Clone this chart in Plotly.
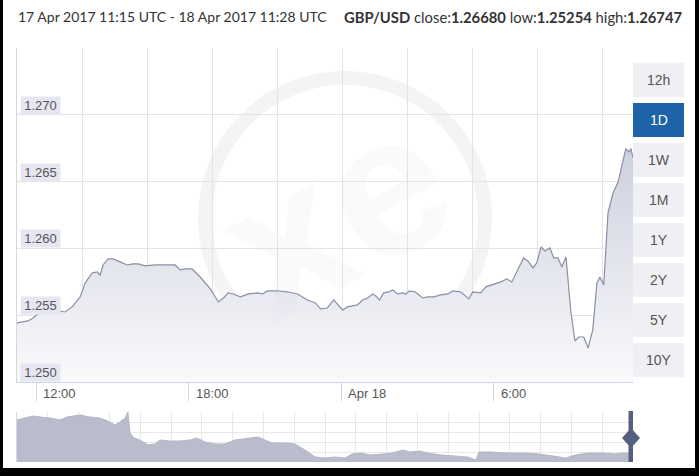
import pandas as pd
import plotly.graph_objects as go

W, H = 699, 476

start = pd.Timestamp("2017-04-17 11:15")
end = pd.Timestamp("2017-04-18 11:28")

# minutes after 17 Apr 2017 11:15 UTC
minutes = [0, 26, 38, 54, 78, 97, 113, 130, 149, 161, 177, 189, 196, 203, 215, 227,
           243, 260, 274, 286, 302, 326, 350, 373, 385, 397, 413, 432, 456, 475, 487,
           498, 510, 527, 546, 567, 579, 591, 614, 638, 662, 685, 704, 716, 732, 747,
           768, 780, 803, 815, 827, 839, 846, 855, 865, 877, 886, 898, 910, 917, 926,
           940, 957, 969, 983, 999, 1016, 1028, 1047, 1066, 1075, 1094, 1106, 1125,
           1141, 1155, 1167, 1181, 1195, 1205, 1217, 1226, 1236, 1245, 1257, 1266,
           1276, 1285, 1295, 1306, 1316, 1325, 1337, 1347, 1358, 1368, 1375, 1384,
           1394, 1406, 1418, 1427, 1436, 1444, 1448, 1453]
rate = [1.25442, 1.25457, 1.25479, 1.25524, 1.25524, 1.25532, 1.25524, 1.25562,
        1.25637, 1.25742, 1.25816, 1.25824, 1.25801, 1.25876, 1.25921, 1.25921,
        1.25899, 1.25876, 1.25884, 1.25884, 1.25869, 1.25876, 1.25876, 1.25876,
        1.25839, 1.25846, 1.25846, 1.25786, 1.25697, 1.25599, 1.25629, 1.25667,
        1.25659, 1.25637, 1.25659, 1.25667, 1.25659, 1.25682, 1.25682, 1.25674,
        1.25659, 1.25614, 1.25592, 1.25547, 1.25554, 1.25614, 1.25539, 1.25562,
        1.25577, 1.25614, 1.25629, 1.25659, 1.25644, 1.25614, 1.25667, 1.25674,
        1.25689, 1.25659, 1.25667, 1.25659, 1.25682, 1.25674, 1.25629, 1.25637,
        1.25637, 1.25652, 1.25659, 1.25682, 1.25674, 1.25622, 1.25674, 1.25667,
        1.25712, 1.25734, 1.25749, 1.25772, 1.25749, 1.25839, 1.25929, 1.25906,
        1.25854, 1.25891, 1.26011, 1.25981, 1.26004, 1.25929, 1.25929, 1.25861,
        1.25936, 1.25539, 1.25307, 1.25337, 1.25337, 1.25254, 1.25389, 1.25742,
        1.25786, 1.25727, 1.26266, 1.26416, 1.26498, 1.26625, 1.26745, 1.26723,
        1.26747, 1.26680]

# navigator (long history), position along the strip 0..20 and relative level 0..5
nav_pos = [0, 0.52, 0.75, 1.07, 1.40, 1.62, 1.82, 2.05, 2.37, 2.69, 2.95, 3.18, 3.34,
           3.51, 3.60, 3.67, 3.80, 3.99, 4.25, 4.48, 4.64, 4.97, 5.29, 5.62, 5.84,
           6.10, 6.43, 6.75, 7.08, 7.56, 7.82, 8.05, 8.28, 8.70, 9.03, 9.35, 9.68,
           10.0, 10.32, 10.65, 10.88, 11.17, 11.46, 11.88, 12.18, 12.53, 12.76, 13.05,
           13.34, 13.77, 14.22, 14.64, 14.90, 15.0, 15.36, 15.94, 16.53, 16.95, 17.40,
           17.82, 18.12, 18.54, 18.99, 19.42, 19.71, 19.90, 20.0]
nav_level = [4.2, 4.6, 4.5, 4.4, 4.2, 4.5, 4.6, 4.7, 4.5, 4.4, 4.1, 3.7, 4.0, 4.4, 5.0,
             2.9, 2.4, 2.2, 1.7, 1.8, 2.2, 2.1, 2.1, 2.2, 2.4, 2.0, 1.8, 1.8, 2.2, 2.4,
             2.5, 2.2, 1.9, 1.9, 1.8, 1.2, 0.5, 0.4, 0.5, 0.4, 0.8, 0.9, 0.7, 0.8, 0.9,
             1.2, 1.0, 1.1, 0.9, 0.7, 0.6, 0.5, 0.2, 1.0, 1.0, 0.9, 0.9, 0.8, 0.6, 0.4,
             0.7, 0.9, 0.9, 0.8, 0.9, 0.9, 0.9]

y_ticks = [1.250, 1.255, 1.260, 1.265, 1.270]
x_ticks = ["2017-04-17 12:00", "2017-04-17 18:00", "2017-04-18 00:00", "2017-04-18 06:00"]
x_tick_text = ["12:00", "18:00", "Apr 18", "6:00"]
buttons = ["12h", "1D", "1W", "1M", "1Y", "2Y", "5Y", "10Y"]
active = "1D"

title_left = "17 Apr 2017 11:15 UTC - 18 Apr 2017 11:28 UTC"
title_right = "<b>GBP/USD</b> close:<b>1.26680</b> low:<b>1.25254</b> high:<b>1.26747</b>"


def px(x):
    return x / W


def py(y):
    return 1 - y / H


times = [start + pd.Timedelta(minutes=m) for m in minutes]

fig = go.Figure()

fig.add_trace(go.Scatter(
    x=times, y=rate, mode="lines",
    line=dict(color="#8a8fa5", width=1.2),
    fill="tozeroy",
    fillgradient=dict(type="vertical", start=1.25, stop=1.2675,
                      colorscale=[[0, "#fafafc"], [1, "#cdd0de"]]),
    hoverinfo="skip", showlegend=False))

fig.add_trace(go.Scatter(
    x=nav_pos, y=nav_level, mode="lines", xaxis="x2", yaxis="y2",
    line=dict(color="#b3b7c7", width=1), fill="tozeroy", fillcolor="#b8bccb",
    hoverinfo="skip", showlegend=False))

# empty trace so the extra grid axis is drawn
fig.add_trace(go.Scatter(x=[], y=[], xaxis="x3", yaxis="y", showlegend=False))

shapes = [
    dict(type="rect", xref="paper", yref="paper", x0=0, x1=1, y0=0, y1=1,
         fillcolor="black", line_width=0, layer="below"),
    dict(type="rect", xref="paper", yref="paper", x0=px(3), x1=px(695), y0=py(468), y1=1,
         fillcolor="white", line_width=0, layer="below"),
    # watermark ring
    dict(type="circle", xref="paper", yref="paper", x0=px(345 - 140), x1=px(345 + 140),
         y0=py(218 + 140), y1=py(218 - 140), line=dict(color="#f4f4f7", width=14),
         layer="below"),
    # navigator handle
    dict(type="rect", xref="paper", yref="paper", x0=px(628.5), x1=px(633), y0=py(462), y1=py(411),
         fillcolor="#556080", line_width=0),
    dict(type="path", xref="paper", yref="paper",
         path=f"M {px(622)} {py(438)} L {px(631)} {py(428)} L {px(640)} {py(438)} L {px(631)} {py(448)} Z",
         fillcolor="#556080", line_width=0),
]

annotations = [
    dict(text=title_left, xref="paper", yref="paper", x=px(16), y=py(17),
         xanchor="left", yanchor="middle", showarrow=False,
         font=dict(family="Lato", size=14, color="#333333")),
    dict(text=title_right, xref="paper", yref="paper", x=px(684), y=py(17),
         xanchor="right", yanchor="middle", showarrow=False,
         font=dict(family="Lato", size=14.8, color="#333333")),
    dict(text="<b>xe</b>", xref="paper", yref="paper", x=px(335), y=py(212),
         xanchor="center", yanchor="middle", showarrow=False, textangle=-28,
         font=dict(family="Liberation Sans", size=200, color="rgba(215,215,228,0.12)")),
]

for v in y_ticks:
    annotations.append(dict(
        text=f"{v:.3f}", xref="paper", yref="y", x=px(20), y=v,
        xanchor="left", yanchor="bottom", width=37, height=15, showarrow=False,
        bgcolor="#e6e6f2", font=dict(family="Liberation Sans", size=13, color="#555555")))

for t, lab in zip(x_ticks, x_tick_text):
    annotations.append(dict(
        text=lab, xref="x", yref="paper", x=t, y=py(393), xanchor="left",
        yanchor="middle", xshift=5, showarrow=False,
        font=dict(family="Liberation Sans", size=13, color="#555555")))

for i, b in enumerate(buttons):
    top = 63 + i * 40
    on = b == active
    shapes.append(dict(type="rect", xref="paper", yref="paper", x0=px(633), x1=px(684),
                       y0=py(top + 34), y1=py(top), line_width=0,
                       fillcolor="#1c63a8" if on else "#f0f0f4"))
    annotations.append(dict(
        text=b, xref="paper", yref="paper", x=px(658.5), y=py(top + 17),
        xanchor="center", yanchor="middle", showarrow=False,
        font=dict(family="Liberation Sans", size=14, color="white" if on else "#555555")))

fig.update_layout(
    width=W, height=H,
    margin=dict(l=0, r=0, t=0, b=0),
    paper_bgcolor="white", plot_bgcolor="rgba(0,0,0,0)",
    showlegend=False,
    xaxis=dict(domain=[px(17), px(633)], type="date", range=[start, end],
               showgrid=False, zeroline=False, showline=True, linecolor="#ccd6eb",
               ticks="outside", ticklen=18, tickcolor="#ccd6eb", tickvals=x_ticks,
               showticklabels=False, anchor="y"),
    xaxis3=dict(overlaying="x", range=[0, 615 / 65], tick0=0, dtick=1,
                showgrid=True, gridcolor="#e4e4e4", showticklabels=False, ticks="",
                zeroline=False, showline=False, anchor="y"),
    yaxis=dict(domain=[py(382), py(48)], range=[1.25, 1.275], tick0=1.25, dtick=0.005,
               showgrid=True, gridcolor="#e4e4e4", showticklabels=False, zeroline=False,
               showline=True, linecolor="#d8d8d8", ticks=""),
    xaxis2=dict(domain=[px(17), px(633)], range=[0, 20], tick0=0, dtick=1,
                showgrid=True, gridcolor="#e8e8e8", showticklabels=False, zeroline=False,
                ticks="", anchor="y2"),
    yaxis2=dict(domain=[py(462), py(412)], range=[0, 5], tick0=0, dtick=1,
                showgrid=True, gridcolor="#e8e8e8", showticklabels=False, zeroline=False,
                showline=True, linecolor="#d8d8d8", ticks="", anchor="x2"),
    shapes=shapes,
    annotations=annotations,
)

# the page body has a default 8px margin; drop it so the figure fills the window
fig.write_html("out.html", config={"displayModeBar": False},
               post_script="document.body.style.margin='0';")
